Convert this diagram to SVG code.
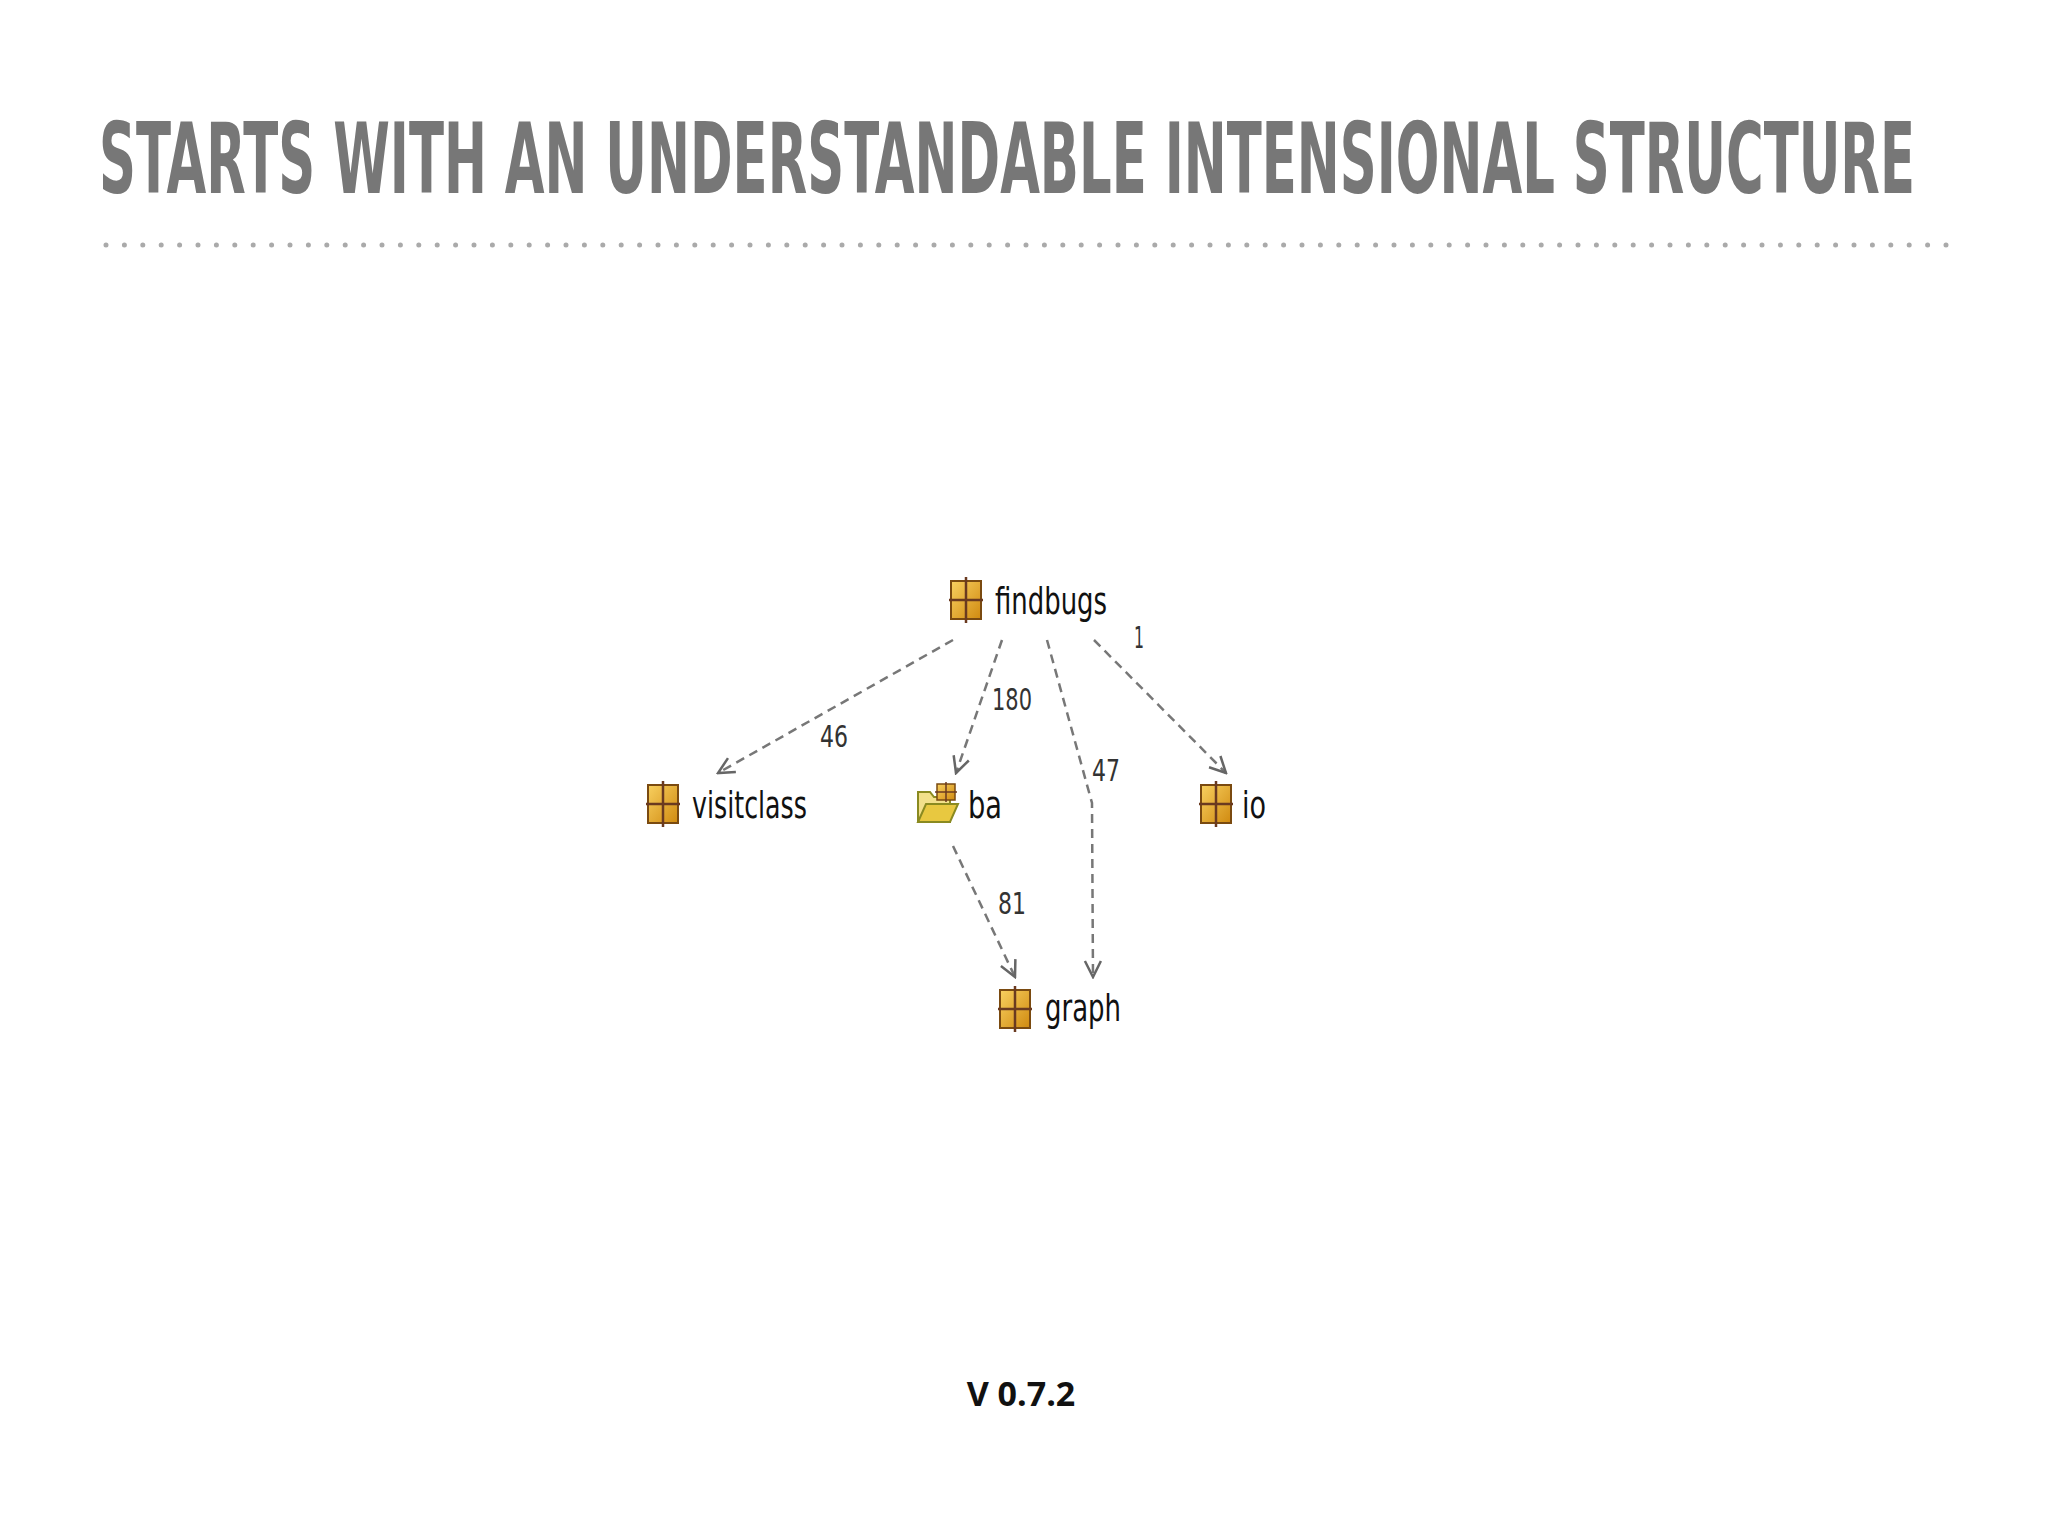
<svg xmlns="http://www.w3.org/2000/svg" width="2048" height="1536" viewBox="0 0 2048 1536">
<style>
.title{font-family:"DejaVu Sans Condensed","Liberation Sans",sans-serif;font-weight:bold;font-size:98px;fill:#777}
.lbl{font-family:"DejaVu Sans Condensed","Liberation Sans",sans-serif;font-size:38px;fill:#111}
.num{font-family:"DejaVu Sans Condensed","Liberation Sans",sans-serif;font-size:30px;fill:#333}
.edge{stroke:#777;stroke-width:2.5;stroke-dasharray:9 6;fill:none;marker-end:url(#arr)}
.ver{font-family:"Open Sans","DejaVu Sans",sans-serif;font-weight:bold;font-size:34px;fill:#111}
</style>
<defs>
<marker id="arr" viewBox="0 0 20 20" refX="18" refY="10" markerWidth="20" markerHeight="20" markerUnits="userSpaceOnUse" orient="auto">
<path d="M2,2 L18,10 L2,18" fill="none" stroke="#666" stroke-width="2.5"/>
</marker>
<linearGradient id="og" x1="0" y1="0" x2="1" y2="1"><stop offset="0" stop-color="#f8d060"/><stop offset="1" stop-color="#d08a10"/></linearGradient>
<g id="pkg">
<rect x="2" y="4" width="30" height="38" fill="url(#og)" stroke="#7a4a10" stroke-width="2"/>
<line x1="17" y1="0" x2="17" y2="46" stroke="#6a3a20" stroke-width="2.5"/>
<line x1="0" y1="23" x2="34" y2="23" stroke="#6a3a20" stroke-width="2.5"/>
</g>
</defs>
<rect width="2048" height="1536" fill="#fff"/>
<text class="title" x="99" y="193" textLength="1816" lengthAdjust="spacingAndGlyphs">STARTS WITH AN UNDERSTANDABLE INTENSIONAL STRUCTURE</text>
<line x1="106" y1="245" x2="1946" y2="245" stroke="#aaa" stroke-width="5" stroke-linecap="round" stroke-dasharray="0 18.4"/>
<g id="connectors">
<line class="edge" x1="953" y1="640" x2="718" y2="773"/>
<line class="edge" x1="1002" y1="640" x2="956" y2="773"/>
<polyline class="edge" points="1047,640 1092,803 1093,977"/>
<line class="edge" x1="1094" y1="640" x2="1226" y2="773"/>
<line class="edge" x1="953" y1="846" x2="1015" y2="977"/>
<text class="num" x="820" y="747" textLength="28" lengthAdjust="spacingAndGlyphs">46</text>
<text class="num" x="992" y="710" textLength="40" lengthAdjust="spacingAndGlyphs">180</text>
<text class="num" x="1092" y="781" textLength="28" lengthAdjust="spacingAndGlyphs">47</text>
<text class="num" x="1134" y="648" textLength="10" lengthAdjust="spacingAndGlyphs">1</text>
<text class="num" x="998" y="914" textLength="28" lengthAdjust="spacingAndGlyphs">81</text>
</g>
<g id="findbugs"><use href="#pkg" x="949" y="577"/><text class="lbl" x="995" y="614" textLength="112" lengthAdjust="spacingAndGlyphs">findbugs</text></g>
<g id="visitclass"><use href="#pkg" x="646" y="781"/><text class="lbl" x="692" y="818" textLength="115" lengthAdjust="spacingAndGlyphs">visitclass</text></g>
<g id="ba">
<path d="M918,792 L930,792 L934,797 L950,797 L950,822 L918,822 Z" fill="#f2e08a" stroke="#8a8a20" stroke-width="2"/>
<path d="M918,822 L926,804 L958,804 L950,822 Z" fill="#e8c840" stroke="#8a8a20" stroke-width="2"/>
<rect x="937" y="784" width="18" height="16" fill="url(#og)" stroke="#7a4a10" stroke-width="1.5"/>
<line x1="946" y1="782" x2="946" y2="802" stroke="#6a3a20" stroke-width="1.5"/><line x1="935" y1="792" x2="957" y2="792" stroke="#6a3a20" stroke-width="1.5"/>
<text class="lbl" x="968" y="818" textLength="34" lengthAdjust="spacingAndGlyphs">ba</text></g>
<g id="io"><use href="#pkg" x="1199" y="781"/><text class="lbl" x="1242" y="818" textLength="24" lengthAdjust="spacingAndGlyphs">io</text></g>
<g id="graph"><use href="#pkg" x="998" y="986"/><text class="lbl" x="1045" y="1021" textLength="76" lengthAdjust="spacingAndGlyphs">graph</text></g>
<text class="ver" x="1021" y="1406" text-anchor="middle">V 0.7.2</text>
</svg>
